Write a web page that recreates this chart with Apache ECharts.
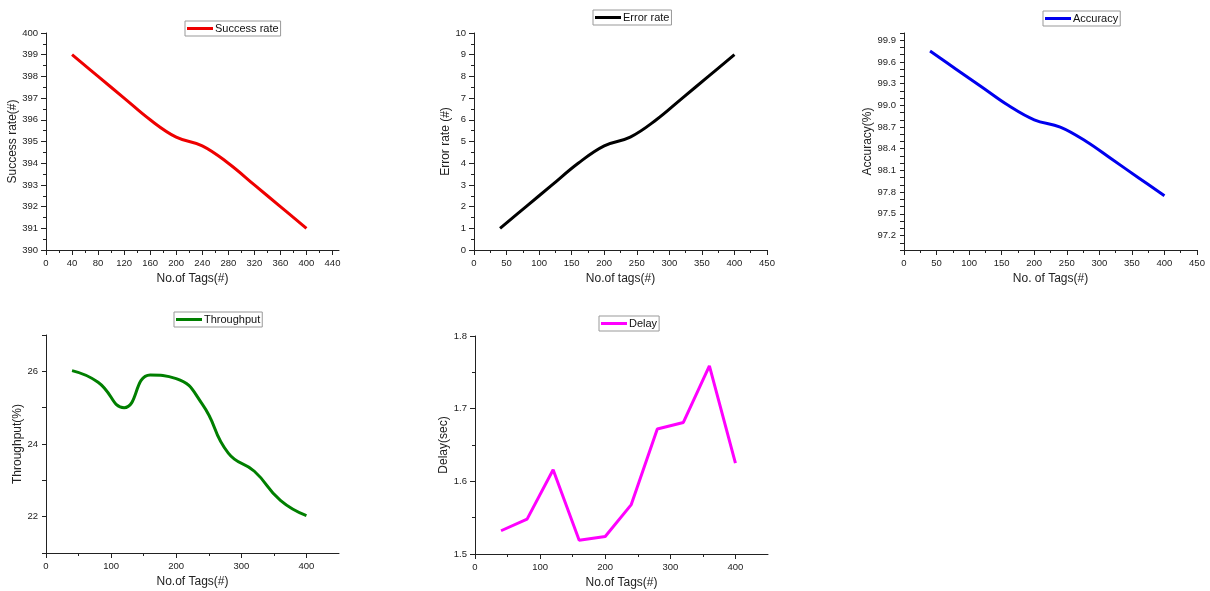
<!DOCTYPE html>
<html>
<head>
<meta charset="utf-8">
<title>Tags charts</title>
<script src="https://cdn.jsdelivr.net/npm/echarts@6/dist/echarts.min.js"></script>
<style>
    html, body { margin: 0; padding: 0; background: #fff; }
    #chart { width: 1210px; height: 591px; }
</style>
</head>
<body>
<div id="chart"></div>
<script>
// x values - number of tags
var tags = [40, 80, 120, 160, 200, 240, 280, 320, 360, 400];

// series values
var successRate = [399, 398, 397, 396, 395.2, 394.8, 394, 393, 392, 391];
var errorRate = [1, 2, 3, 4, 4.8, 5.2, 6, 7, 8, 9];
var accuracy = [99.75, 99.5, 99.25, 99.0, 98.8, 98.7, 98.5, 98.25, 98.0, 97.75];
var throughput = [26.02, 25.7, 25.0, 25.9, 25.8, 25.1, 23.75, 23.25, 22.45, 22.03];
var delay = [1.532, 1.548, 1.616, 1.519, 1.524, 1.568, 1.672, 1.681, 1.759, 1.625];

// tick labels
var xTicks40 = [0, 40, 80, 120, 160, 200, 240, 280, 320, 360, 400, 440];
var xTicks100 = [0, 100, 200, 300, 400];
var accTicks = [97.2, 97.5, 97.8, 98.1, 98.4, 98.7, 99.0, 99.3, 99.6, 99.9];
var thrTicks = [22, 24, 26];

var FONT = 'Liberation Sans';
var INK = '#222';

// pair x with y
function pairs(ys) {
    return tags.map(function (t, i) { return [t, ys[i]]; });
}

// base value axis, origin style: black line, outward ticks, small minor ticks
function axis(grid, name, gap, opts) {
    var a = {
        type: 'value', gridIndex: grid,
        name: name, nameLocation: 'middle', nameGap: gap,
        nameTextStyle: { fontFamily: FONT, fontSize: 12, color: INK },
        axisLine: { show: true, lineStyle: { color: INK, width: 1 } },
        axisTick: { show: true, length: 5, lineStyle: { color: INK } },
        minorTick: { show: true, splitNumber: 2, length: 3, lineStyle: { color: INK } },
        axisLabel: { fontFamily: FONT, fontSize: 9.5, color: INK, margin: 8 },
        splitLine: { show: false },
        minorSplitLine: { show: false }
    };
    for (var k in opts) {
        if (k === 'ticks') {
            a.axisTick.customValues = opts.ticks;
            a.axisLabel.customValues = opts.ticks;
        } else if (k === 'fmt') {
            a.axisLabel.formatter = opts.fmt;
        } else if (k === 'noMinor') {
            a.minorTick.show = false;
            a.axisTick.length = 4;
        } else {
            a[k] = opts[k];
        }
    }
    return a;
}

function legend(name, left, top) {
    return {
        data: [name], left: left, top: top,
        icon: 'rect', itemWidth: 26, itemHeight: 3, itemGap: 2,
        borderColor: '#999', borderWidth: 1, padding: [2, 2],
        textStyle: { fontFamily: FONT, fontSize: 11, color: '#111', padding: [0, 0, 0, -3] }
    };
}

function line(name, grid, ys, color, smooth) {
    return {
        name: name, type: 'line', xAxisIndex: grid, yAxisIndex: grid,
        data: pairs(ys), smooth: smooth, showSymbol: false, symbol: 'none',
        lineStyle: { color: color, width: 3 }, itemStyle: { color: color }
    };
}

var chart = echarts.init(document.getElementById('chart'));

var option = {
    backgroundColor: '#fff',
    animation: false,
    grid: [
        { left: 46, top: 33, width: 293, height: 217 },
        { left: 474, top: 33, width: 293, height: 217 },
        { left: 904, top: 33, width: 293, height: 217 },
        { left: 46, top: 335, width: 293, height: 218 },
        { left: 475, top: 336, width: 293, height: 218 }
    ],
    legend: [
        legend('Success rate', 185, 21),
        legend('Error rate', 593, 10),
        legend('Accuracy', 1043, 11),
        legend('Throughput', 174, 312),
        legend('Delay', 599, 316)
    ],
    xAxis: [
        axis(0, 'No.of Tags(#)', 23, { min: 0, max: 450, interval: 40, ticks: xTicks40 }),
        axis(1, 'No.of tags(#)', 23, { min: 0, max: 450, interval: 50 }),
        axis(2, 'No. of Tags(#)', 23, { min: 0, max: 450, interval: 50 }),
        axis(3, 'No.of Tags(#)', 23, { min: 0, max: 450, interval: 100, ticks: xTicks100 }),
        axis(4, 'No.of Tags(#)', 23, { min: 0, max: 450, interval: 100, ticks: xTicks100 })
    ],
    yAxis: [
        axis(0, 'Success rate(#)', 26, { min: 390, max: 400, interval: 1 }),
        axis(1, 'Error rate (#)', 19, { min: 0, max: 10, interval: 1 }),
        axis(2, 'Accuracy(%)', 29, {
            min: 97, max: 100, interval: 0.1, noMinor: true,
            fmt: function (v) {
                for (var i = 0; i < accTicks.length; i++) {
                    if (Math.abs(accTicks[i] - v) < 1e-6) return accTicks[i].toFixed(1);
                }
                return '';
            }
        }),
        axis(3, 'Throughput(%)', 21, {
            min: 21, max: 27, interval: 1, noMinor: true,
            fmt: function (v) { return thrTicks.indexOf(Math.round(v)) >= 0 ? String(Math.round(v)) : ''; }
        }),
        axis(4, 'Delay(sec)', 24, {
            min: 1.5, max: 1.8, interval: 0.1,
            fmt: function (v) { return v.toFixed(1); }
        })
    ],
    series: [
        line('Success rate', 0, successRate, '#ee0000', 0.4),
        line('Error rate', 1, errorRate, '#000000', 0.4),
        line('Accuracy', 2, accuracy, '#0000ee', 0.4),
        line('Throughput', 3, throughput, '#007f00', 0.5),
        line('Delay', 4, delay, '#ff00ff', false)
    ]
};

chart.setOption(option);
</script>
</body>
</html>
